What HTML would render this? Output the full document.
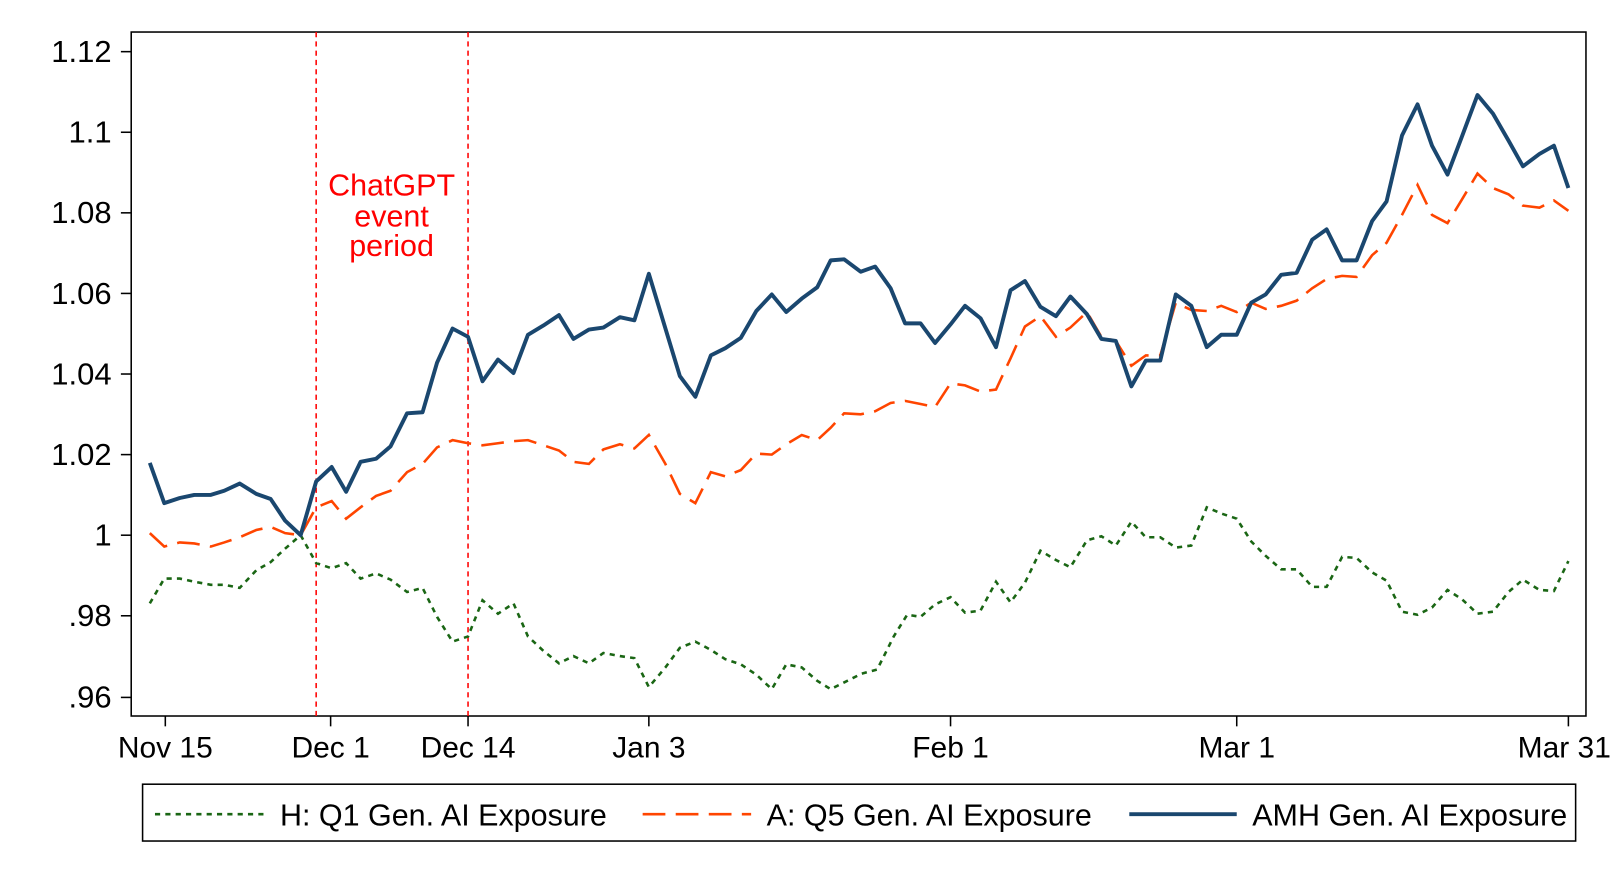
<!DOCTYPE html>
<html><head><meta charset="utf-8"><style>body{margin:0;background:#fff}svg{display:block}</style></head><body>
<svg width="1620" height="884" xmlns="http://www.w3.org/2000/svg" font-family="Liberation Sans, Arial, sans-serif">
<rect x="0" y="0" width="1620" height="884" fill="#fff"/>
<g transform="scale(1.0332)">
<rect x="127" y="31" width="1408" height="662" fill="none" stroke="#000" stroke-width="1.5"/>
<g stroke="#000" stroke-width="1.5">
<line x1="117" y1="50" x2="127" y2="50"/><line x1="117" y1="128" x2="127" y2="128"/><line x1="117" y1="206" x2="127" y2="206"/><line x1="117" y1="284" x2="127" y2="284"/><line x1="117" y1="362" x2="127" y2="362"/><line x1="117" y1="440" x2="127" y2="440"/><line x1="117" y1="518" x2="127" y2="518"/><line x1="117" y1="596" x2="127" y2="596"/><line x1="117" y1="675" x2="127" y2="675"/>
<line x1="160" y1="693" x2="160" y2="703"/><line x1="320" y1="693" x2="320" y2="703"/><line x1="453" y1="693" x2="453" y2="703"/><line x1="628" y1="693" x2="628" y2="703"/><line x1="920" y1="693" x2="920" y2="703"/><line x1="1197" y1="693" x2="1197" y2="703"/><line x1="1518" y1="693" x2="1518" y2="703"/>
</g>
<g font-size="30" text-anchor="end" fill="#000">
<text x="108" y="60">1.12</text><text x="108" y="138">1.1</text><text x="108" y="216">1.08</text><text x="108" y="294">1.06</text><text x="108" y="372">1.04</text><text x="108" y="450">1.02</text><text x="108" y="528">1</text><text x="108" y="606">.98</text><text x="108" y="685">.96</text>
</g>
<g font-size="29" text-anchor="middle" fill="#000">
<text x="160" y="733">Nov 15</text><text x="320" y="733">Dec 1</text><text x="453" y="733">Dec 14</text><text x="628" y="733">Jan 3</text><text x="920" y="733">Feb 1</text><text x="1197" y="733">Mar 1</text><text x="1514" y="733">Mar 31</text>
</g>
<g stroke="#ff0000" stroke-width="1.5" stroke-dasharray="5,4">
<line x1="306" y1="31" x2="306" y2="693"/><line x1="453" y1="31" x2="453" y2="693"/>
</g>
<g font-size="29.5" text-anchor="middle" fill="#ff0000">
<text x="379" y="189">ChatGPT</text><text x="379" y="219">event</text><text x="379" y="248">period</text>
</g>
<polyline fill="none" stroke="#1a6614" stroke-width="2.5" stroke-dasharray="5,5" points="145,584 159,560 174,560 188,563 204,566 217,566 232,569 248,552 262,544 276,531 291,518 306,545 321,550 335,545 349,560 364,555 378,561 394,573 409,569 423,597 438,621 453,616 467,581 482,594 497,584 511,616 526,630 541,642 555,635 570,642 584,632 600,635 614,637 628,665 644,646 658,627 673,621 688,629 702,638 717,643 732,653 747,667 761,643 776,646 791,659 804,667 818,660 834,652 849,648 865,616 878,595 891,597 905,585 920,578 934,593 949,591 964,563 978,583 992,564 1007,533 1022,542 1036,549 1052,523 1066,519 1080,528 1095,505 1109,520 1123,520 1138,530 1153,528 1168,491 1182,497 1197,502 1211,524 1225,538 1240,551 1255,551 1270,568 1284,568 1299,539 1313,540 1328,554 1342,562 1357,592 1372,595 1386,588 1401,571 1415,580 1430,594 1445,592 1460,573 1474,561 1490,571 1504,572 1518,543"/>
<polyline fill="none" stroke="#ff4500" stroke-width="2.5" stroke-dasharray="22,10" points="145,516 159,529 174,525 188,526 204,529 217,525 232,520 248,513 262,510 276,516 291,518 306,491 321,485 335,502 349,491 364,480 378,475 394,457 409,449 423,433 438,426 453,429 467,431 482,429 497,427 511,426 526,431 541,436 555,447 570,449 584,435 600,430 614,434 628,421 644,449 658,478 673,487 688,457 702,461 717,455 732,439 747,440 761,430 776,421 791,426 804,414 817,400 833,401 847,398 862,390 876,388 891,391 905,394 920,371 934,373 949,379 964,377 978,347 992,316 1007,306 1022,326 1036,317 1052,302 1066,326 1080,330 1095,354 1109,344 1123,344 1138,293 1153,300 1168,301 1182,296 1197,302 1211,293 1225,299 1240,296 1255,291 1270,279 1284,270 1299,267 1313,268 1328,247 1342,235 1357,208 1372,179 1386,208 1401,216 1415,193 1430,168 1445,182 1460,188 1474,199 1490,201 1504,194 1518,204"/>
<polyline fill="none" stroke="#1a476f" stroke-width="3.8" stroke-linejoin="round" points="145,448 159,487 174,482 188,479 204,479 217,475 232,468 248,478 262,483 276,504 291,518 306,466 321,452 335,476 349,447 364,444 378,432 394,400 409,399 423,351 438,318 453,326 467,369 482,348 497,361 511,324 526,315 541,305 555,328 570,319 584,317 600,307 614,310 628,265 658,364 673,384 688,344 702,337 717,327 732,301 747,285 761,302 776,289 791,278 804,252 817,251 833,263 847,258 862,279 876,313 891,313 905,332 920,314 934,296 949,308 964,336 978,281 992,272 1007,297 1022,306 1036,287 1052,304 1066,328 1080,330 1095,374 1109,349 1123,349 1138,285 1153,296 1168,336 1182,324 1197,324 1211,293 1225,285 1240,266 1255,264 1270,232 1284,222 1299,252 1313,252 1328,214 1342,195 1357,131 1372,101 1386,141 1401,169 1415,132 1430,92 1445,110 1460,136 1474,161 1490,149 1504,141 1518,182"/>
<rect x="138" y="759" width="1387" height="55" fill="#fff" stroke="#000" stroke-width="1.5"/>
<line x1="150" y1="788" x2="255" y2="788" stroke="#1a6614" stroke-width="2.5" stroke-dasharray="5,5"/>
<line x1="622" y1="788" x2="727" y2="788" stroke="#ff4500" stroke-width="2.5" stroke-dasharray="22,10"/>
<line x1="1093" y1="788" x2="1197" y2="788" stroke="#1a476f" stroke-width="3.8"/>
<g font-size="29.5" fill="#000">
<text x="271" y="799">H: Q1 Gen. AI Exposure</text>
<text x="742" y="799">A: Q5 Gen. AI Exposure</text>
<text x="1212" y="799">AMH Gen. AI Exposure</text>
</g>
</g>
</svg>
</body></html>
